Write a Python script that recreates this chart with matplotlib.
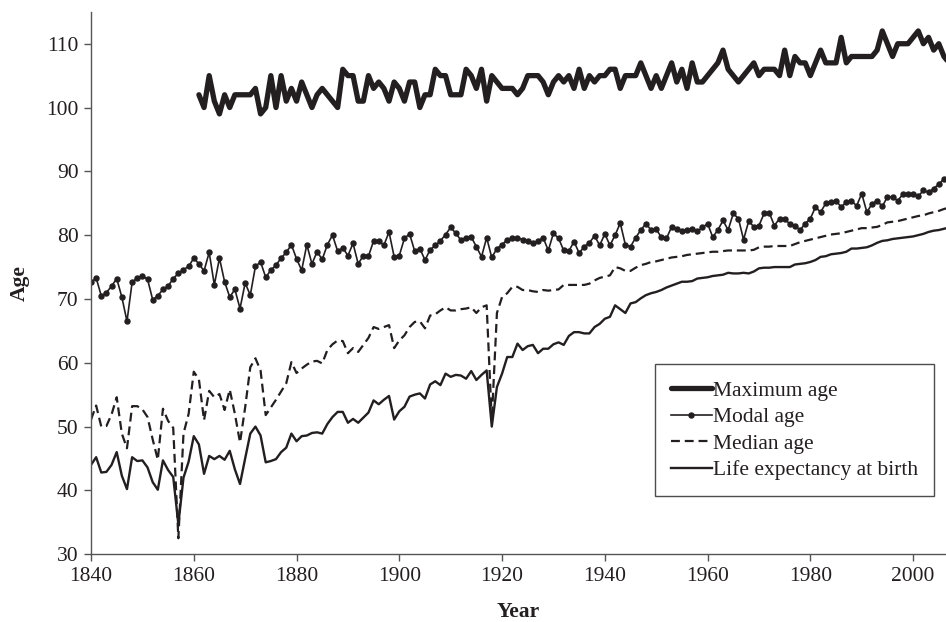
import matplotlib
matplotlib.use("Agg")
import matplotlib.pyplot as plt
import numpy as np

plt.rcParams['font.family'] = ['Liberation Serif', 'DejaVu Serif']

# data: Sweden, 1840-2007
years = np.arange(1840, 2008)

life_exp = [
    44.0, 45.2, 42.8, 42.9, 44.0, 46.0, 42.3, 40.2, 45.2, 44.6,
    44.7, 43.6, 41.3, 40.1, 44.7, 43.2, 42.1, 34.7, 42.0, 44.5,
    48.5, 47.2, 42.6, 45.4, 44.9, 45.4, 44.8, 46.2, 43.3, 41.0,
    45.0, 48.9, 50.0, 48.6, 44.4, 44.6, 44.9, 46.0, 46.7, 48.9,
    47.7, 48.5, 48.6, 49.0, 49.1, 48.9, 50.4, 51.5, 52.3, 52.3,
    50.6, 51.2, 50.6, 51.4, 52.2, 54.1, 53.5, 54.2, 54.8, 51.1,
    52.4, 53.1, 54.7, 55.0, 55.2, 54.4, 56.6, 57.1, 56.5, 58.3,
    57.8, 58.1, 58.0, 57.5, 58.7, 57.3, 58.1, 58.8, 50.0, 56.2,
    58.3, 60.9, 60.9, 63.0, 62.0, 62.6, 62.8, 61.5, 62.2, 62.2,
    62.9, 63.2, 62.8, 64.2, 64.8, 64.8, 64.6, 64.6, 65.6, 66.1,
    66.9, 67.2, 69.0, 68.4, 67.8, 69.3, 69.5, 70.1, 70.6, 70.9,
    71.1, 71.4, 71.8, 72.1, 72.4, 72.7, 72.7, 72.8, 73.2, 73.3,
    73.4, 73.6, 73.7, 73.8, 74.1, 74.0, 74.0, 74.1, 74.0, 74.3,
    74.8, 74.9, 74.9, 75.0, 75.0, 75.0, 75.0, 75.4, 75.5, 75.6,
    75.8, 76.1, 76.6, 76.7, 77.0, 77.1, 77.2, 77.4, 77.9, 77.9,
    78.0, 78.1, 78.4, 78.8, 79.1, 79.2, 79.4, 79.5, 79.6, 79.7,
    79.8, 80.0, 80.2, 80.5, 80.7, 80.8, 81.0, 81.2,
]

median_age = [
    51.1, 53.3, 50.0, 50.1, 51.9, 54.6, 48.9, 46.6, 53.2, 53.2,
    52.7, 51.5, 48.0, 44.8, 52.8, 50.9, 49.8, 32.5, 48.9, 52.0,
    58.6, 57.4, 51.0, 55.6, 54.6, 55.1, 52.6, 55.8, 52.0, 47.5,
    53.0, 59.3, 60.7, 58.8, 51.8, 53.0, 54.2, 55.5, 56.8, 60.1,
    58.4, 59.1, 59.7, 60.2, 60.3, 59.9, 62.0, 62.9, 63.5, 63.4,
    61.5, 62.3, 61.7, 62.8, 63.9, 65.6, 65.3, 65.6, 65.9, 62.3,
    63.5, 64.3, 65.6, 66.4, 66.5, 65.4, 67.4, 67.6, 68.2, 68.7,
    68.2, 68.2, 68.4, 68.5, 68.7, 67.8, 68.7, 69.0, 51.0, 67.8,
    70.3, 70.9, 71.9, 71.9, 71.4, 71.4, 71.2, 71.1, 71.4, 71.3,
    71.4, 71.5, 72.2, 72.2, 72.2, 72.2, 72.2, 72.4, 72.9, 73.3,
    73.5, 73.7, 75.0, 74.8, 74.4, 74.4, 74.9, 75.3, 75.5, 75.8,
    75.9, 76.1, 76.3, 76.5, 76.6, 76.7, 76.9, 77.0, 77.1, 77.2,
    77.3, 77.4, 77.4, 77.5, 77.6, 77.6, 77.6, 77.6, 77.6, 77.7,
    78.1, 78.2, 78.2, 78.3, 78.3, 78.3, 78.3, 78.6, 78.9, 79.1,
    79.3, 79.5, 79.7, 79.9, 80.1, 80.2, 80.3, 80.5, 80.7, 80.9,
    81.1, 81.1, 81.2, 81.3, 81.6, 82.0, 82.1, 82.2, 82.4, 82.6,
    82.8, 83.0, 83.1, 83.4, 83.6, 83.8, 84.1, 84.3,
]

modal_age = [
    72.6, 73.3, 70.5, 71.0, 72.0, 73.2, 70.3, 66.5, 72.6, 73.3,
    73.6, 73.1, 69.9, 70.5, 71.5, 72.0, 73.2, 74.0, 74.6, 75.1,
    76.4, 75.5, 74.4, 77.3, 72.2, 76.4, 72.7, 70.3, 71.5, 68.5,
    72.5, 70.6, 75.1, 75.8, 73.4, 74.5, 75.3, 76.4, 77.3, 78.5,
    76.3, 74.5, 78.5, 75.5, 77.4, 76.2, 78.5, 80.0, 77.5, 78.0,
    76.8, 78.7, 75.5, 76.8, 76.7, 79.1, 79.1, 78.4, 80.5, 76.6,
    76.8, 79.5, 80.2, 77.5, 77.9, 76.1, 77.7, 78.4, 79.1, 80.1,
    81.2, 80.3, 79.2, 79.6, 79.7, 78.2, 76.6, 79.6, 76.5, 77.9,
    78.5, 79.3, 79.5, 79.6, 79.3, 79.1, 78.7, 79.1, 79.6, 77.6,
    80.3, 79.5, 77.6, 77.5, 79.0, 77.2, 78.2, 78.8, 79.9, 78.4,
    80.2, 78.4, 80.0, 81.9, 78.5, 78.2, 79.6, 80.8, 81.8, 80.8,
    80.9, 79.7, 79.5, 81.3, 81.0, 80.6, 80.8, 80.9, 80.6, 81.2,
    81.8, 79.7, 80.8, 82.3, 80.8, 83.4, 82.6, 79.3, 82.2, 81.3,
    81.5, 83.4, 83.5, 81.5, 82.6, 82.6, 81.7, 81.5, 80.8, 81.8,
    82.6, 84.4, 83.6, 85.0, 85.2, 85.4, 84.4, 85.2, 85.4, 84.6,
    86.5, 83.6, 84.9, 85.4, 84.5, 86.0, 86.0, 85.4, 86.4, 86.5,
    86.5, 86.1, 87.0, 86.7, 87.3, 88.0, 88.8, 89.1,
]

# maximum age at death is available from 1861
max_years = np.arange(1861, 2008)
max_age = [
    102, 100, 105, 101, 99, 102, 100, 102, 102, 102,
    102, 103, 99, 100, 105, 100, 105, 101, 103, 101,
    104, 102, 100, 102, 103, 102, 101, 100, 106, 105,
    105, 101, 101, 105, 103, 104, 103, 101, 104, 103,
    101, 104, 104, 100, 102, 102, 106, 105, 105, 102,
    102, 102, 106, 105, 103, 106, 101, 105, 104, 103,
    103, 103, 102, 103, 105, 105, 105, 104, 102, 104,
    105, 104, 105, 103, 106, 103, 105, 104, 105, 105,
    106, 106, 103, 105, 105, 105, 107, 105, 103, 105,
    103, 105, 107, 104, 106, 103, 107, 104, 104, 105,
    106, 107, 109, 106, 105, 104, 105, 106, 107, 105,
    106, 106, 106, 105, 109, 105, 108, 107, 107, 105,
    107, 109, 107, 107, 107, 111, 107, 108, 108, 108,
    108, 108, 109, 112, 110, 108, 110, 110, 110, 111,
    112, 110, 111, 109, 110, 108, 107,
]

ink = '#231f20'

fig = plt.figure(figsize=(9.46, 6.22), dpi=100)
ax = fig.add_axes([0.0962, 0.109, 0.9038, 0.872])

ax.plot(max_years, max_age, color=ink, lw=3.8, solid_joinstyle='round',
        solid_capstyle='round', label='Maximum age')
ax.plot(years, modal_age, color=ink, lw=1.2, marker='o', markersize=3.6,
        label='Modal age')
ax.plot(years, median_age, color=ink, lw=1.6, linestyle=(0, (4, 2.2)),
        label='Median age')
ax.plot(years, life_exp, color=ink, lw=1.7, label='Life expectancy at birth')

ax.set_xlim(1840, 2006.4)
ax.set_ylim(30, 115)
ax.set_xticks(np.arange(1840, 2001, 20))
ax.set_yticks(np.arange(30, 111, 10))

for side in ['top', 'right']:
    ax.spines[side].set_visible(False)
for side in ['left', 'bottom']:
    ax.spines[side].set_color('#555555')
    ax.spines[side].set_linewidth(1.0)
ax.tick_params(direction='out', length=5, width=1.0, color='#555555',
               labelsize=15.5, labelcolor=ink, pad=4)

ax.set_xlabel('Year', fontsize=15.5, fontweight='bold', color=ink, labelpad=12)
ax.set_ylabel('Age', fontsize=15.5, fontweight='bold', color=ink, labelpad=12)

leg = ax.legend(loc='upper right', bbox_to_anchor=(0.986, 0.35),
                fontsize=15.5, frameon=True, fancybox=False,
                handlelength=1.9, handletextpad=0.05, borderpad=0.75,
                labelspacing=0.3, borderaxespad=0)
leg.get_frame().set_edgecolor(ink)
leg.get_frame().set_linewidth(1.0)
for t in leg.get_texts():
    t.set_color(ink)

fig.savefig('out.png', dpi=100)
